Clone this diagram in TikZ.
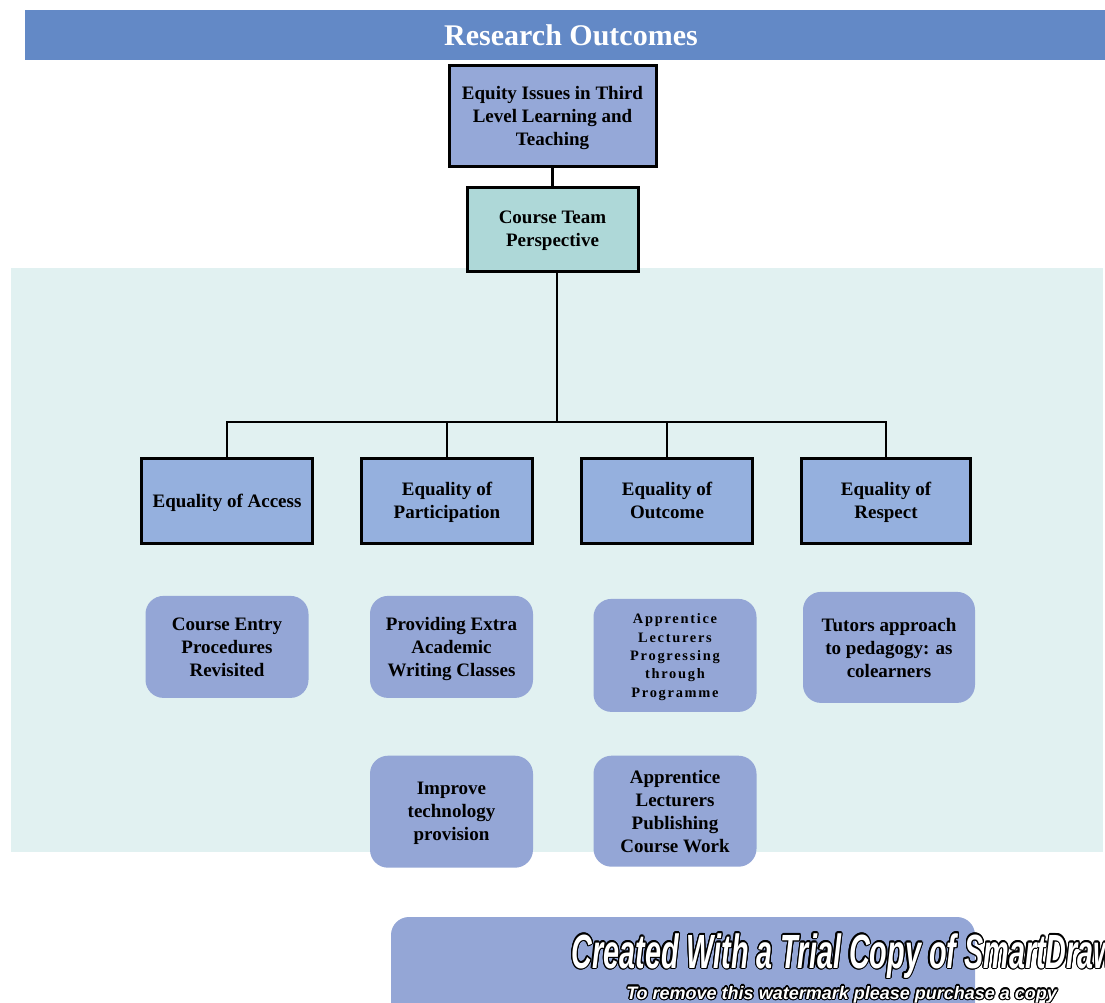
\documentclass[tikz,border=0pt]{standalone}
\usepackage{fontspec}
\setmainfont{Liberation Serif}
\newfontfamily\spacedfont[LetterSpace=12]{Liberation Serif}
\newfontfamily\markfont[FakeStretch=0.6]{Liberation Sans}
\newfontfamily\smallmarkfont{Liberation Sans}
\usepackage{contour}
\contourlength{0.6pt}
\usetikzlibrary{positioning}
\definecolor{barblue}{RGB}{99,137,198}
\definecolor{bandcyan}{RGB}{225,241,241}
\definecolor{topblue}{RGB}{149,168,216}
\definecolor{teamcyan}{RGB}{174,216,216}
\definecolor{levelblue}{RGB}{149,176,222}
\definecolor{softblue}{RGB}{148,166,214}
\tikzstyle{Box} = [
draw=black, line width=1.5pt, align=center, inner sep=0pt, text depth=-1.5pt,
font=\bfseries\fontsize{9.5}{11.5}\selectfont]
\tikzstyle{Top} = [Box, fill=topblue, minimum width=103.5pt, minimum height=50.5pt]
\tikzstyle{Team} = [Box, fill=teamcyan, minimum width=85.5pt, minimum height=42pt]
\tikzstyle{Level} = [Box, fill=levelblue, minimum width=85.5pt, minimum height=42.5pt]
\tikzstyle{Soft} = [
fill=softblue, rounded corners=9pt, align=center, inner sep=0pt, text depth=0pt,
minimum width=81.5pt, minimum height=51pt,
font=\bfseries\fontsize{9.5}{11.5}\selectfont]
\tikzstyle{Link} = [line width=1.2pt]

\begin{document}
\begin{tikzpicture}[x=0.5pt, y=-0.5pt]
    \useasboundingbox (0,0) rectangle (1105,1003);
    \fill[bandcyan] (11,268) rectangle (1103,852);
    \node [fill=barblue, minimum width=540pt, minimum height=25pt, inner sep=0pt,
        text=white, font=\bfseries\fontsize{15}{18}\selectfont] (bar) at (565,35) {\hspace{6pt}Research Outcomes};
    \node [Top] (equity) at (552.5,115.5) {Equity Issues in Third\\Level Learning and\\Teaching};
    \node [Team, below=9pt of equity] (team) {Course Team\\Perspective};
    \node [Level] (access) at (227,500.5) {Equality of Access};
    \node [Level] (part) at (447,500.5) {Equality of\\Participation};
    \node [Level] (outcome) at (667,500.5) {Equality of\\Outcome};
    \node [Level, minimum width=84.5pt] (respect) at (886,500.5) {Equality of\\Respect};
    \node [Soft, below=25.5pt of access] (entry) {Course Entry\\Procedures\\Revisited};
    \node [Soft, below=25.5pt of part, xshift=2.25pt] (extra) {Providing Extra\\Academic\\Writing Classes};
    \node [Soft, below=27pt of outcome, xshift=4pt, minimum height=56.5pt,
        font=\spacedfont\bfseries\fontsize{7.2}{9.2}\selectfont] (progress)
        {Apprentice\\Lecturers\\Progressing\\through\\Programme};
    \node [Soft, below=23.5pt of respect, xshift=1.5pt, minimum width=86pt, minimum height=55.5pt] (tutors)
        {Tutors approach\\to pedagogy: as\\colearners};
    \node [Soft, below=28.5pt of extra, minimum height=56pt] (improve) {Improve\\technology\\provision};
    \node [Soft, below=21.5pt of progress, minimum height=55.5pt] (publish)
        {Apprentice\\Lecturers\\Publishing\\Course Work};
    \coordinate (fork) at (557,422);
    \draw[Link] (equity) -- (team);
    \draw[Link] (fork |- team.south) -- (fork);
    \draw[Link] (access.north) |- (fork) -| (respect.north);
    \draw[Link] (part.north) |- (fork);
    \draw[Link] (outcome.north) |- (fork);
    % trial watermark
    \fill[softblue, rounded corners=9pt] (391,917) rectangle (975,1040);
    \node [anchor=base west, inner sep=0pt, text=white,
        font=\markfont\bfseries\itshape\fontsize{24}{28}\selectfont] (mark) at (571,968)
        {\contour{black}{Created With a Trial Copy of SmartDraw}};
    \node [anchor=base west, inner sep=0pt, text=white,
        font=\smallmarkfont\bfseries\itshape\fontsize{9}{10}\selectfont] (buy) at (626,999)
        {\contour{black}{To remove this watermark please purchase a copy}};
\end{tikzpicture}
\end{document}
